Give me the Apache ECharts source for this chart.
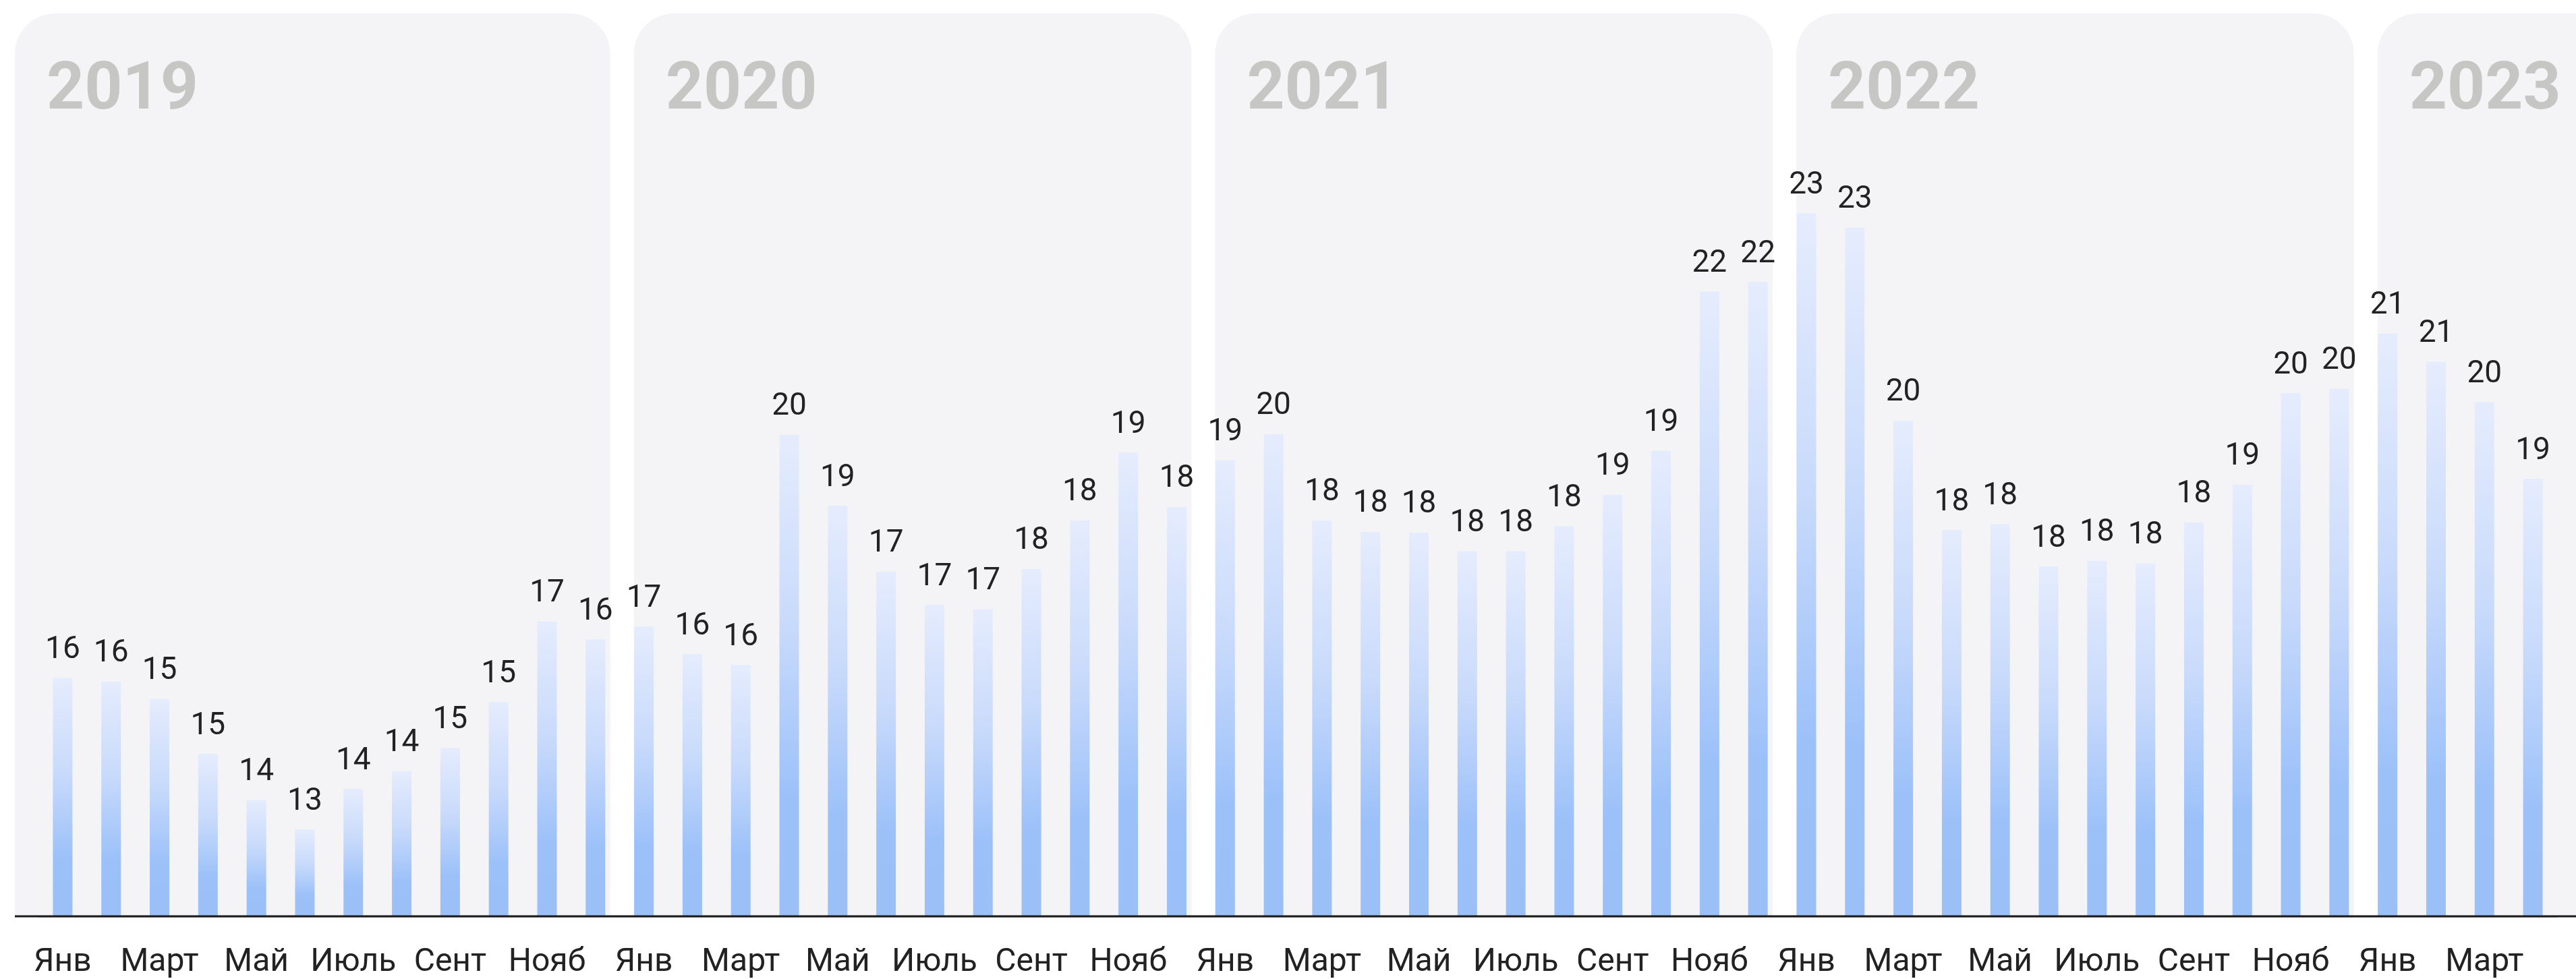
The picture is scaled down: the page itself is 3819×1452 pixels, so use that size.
<!DOCTYPE html>
<html>
<head>
<meta charset="utf-8">
<script src="https://cdn.jsdelivr.net/npm/echarts@6/dist/echarts.min.js"></script>
<style>
  html, body { margin: 0; padding: 0; background: #ffffff; }
  #chart { width: 3819px; height: 1452px; }
</style>
</head>
<body>
<div id="chart"></div>
<script>
// ---------- DATA ----------
var MONTHS = ['Янв', 'Фев', 'Март', 'Апр', 'Май', 'Июнь', 'Июль', 'Авг', 'Сент', 'Окт', 'Нояб', 'Дек'];
var YEARS = ['2019', '2020', '2021', '2022', '2023'];
var MONTHS_PER_YEAR = [12, 12, 12, 12, 4];

var v2019 = [15.82, 15.76, 15.49, 14.63, 13.91, 13.45, 14.08, 14.36, 14.72, 15.44, 16.70, 16.42];
var v2020 = [16.62, 16.19, 16.02, 19.62, 18.51, 17.48, 16.96, 16.89, 17.52, 18.28, 19.34, 18.49];
var v2021 = [19.22, 19.63, 18.28, 18.10, 18.09, 17.80, 17.80, 18.19, 18.68, 19.37, 21.86, 22.01];
var v2022 = [23.08, 22.86, 19.84, 18.13, 18.22, 17.56, 17.65, 17.61, 18.25, 18.84, 20.27, 20.34];
var v2023 = [21.20, 20.76, 20.13, 18.93];

// ---------- BUILD ----------
var VALUES = [].concat(v2019, v2020, v2021, v2022, v2023);
var CATEGORIES = [];
var PANELS = [];
var idx = 0;
YEARS.forEach(function (y, yi) {
  var start = idx;
  for (var m = 0; m < MONTHS_PER_YEAR[yi]; m++) {
    CATEGORIES.push(y + '|' + MONTHS[m]);
    idx++;
  }
  PANELS.push([start, idx - 1, y]);
});

var Y_MIN = 12.08, Y_MAX = 26.206;
var chart = echarts.init(document.getElementById('chart'), null, { renderer: 'canvas' });

var option = {
  animation: false,
  backgroundColor: '#ffffff',
  grid: { left: 57, right: 28, top: 20, bottom: 90, containLabel: false },
  xAxis: {
    type: 'category',
    data: CATEGORIES,
    boundaryGap: true,
    axisLine: { show: true, lineStyle: { color: '#c9c9c9', width: 1 } },
    axisTick: { show: false },
    splitLine: { show: false },
    axisLabel: {
      interval: 1,
      margin: 44,
      color: '#222222',
      fontFamily: 'Roboto',
      fontSize: 48,
      formatter: function (v) { return v.split('|')[1]; }
    }
  },
  yAxis: {
    type: 'value',
    min: Y_MIN,
    max: Y_MAX,
    show: false,
    splitLine: { show: false }
  },
  series: [
    {
      type: 'custom',
      z: 0,
      silent: true,
      clip: false,
      data: PANELS,
      encode: { x: [0, 1] },
      renderItem: function (params, api) {
        var cs = params.coordSys;
        var s = api.value(0), e = api.value(1);
        var band = api.size([1, 0])[0];
        var x0 = api.coord([s, Y_MIN])[0] - band / 2;
        var x1 = api.coord([e, Y_MIN])[0] + band / 2;
        var left = params.dataIndex === 0 ? cs.x - 35 : x0 + 21;
        var right = (params.dataIndex === PANELS.length - 1) ? api.getWidth() + 100 : x1 - 14;
        var top = cs.y;
        var bottom = cs.y + cs.height;
        return {
          type: 'group',
          children: [
            {
              type: 'rect',
              shape: { x: left, y: top, width: right - left, height: bottom - top, r: [60, 60, 0, 0] },
              style: { fill: '#f4f4f6' }
            },
            {
              type: 'text',
              style: {
                x: left + 47,
                y: top + 116,
                text: PANELS[params.dataIndex][2],
                fill: '#c6c6c4',
                font: 'bold 98px Roboto',
                textVerticalAlign: 'middle',
                textAlign: 'left'
              }
            }
          ]
        };
      }
    },
    {
      type: 'bar',
      z: 2,
      data: VALUES,
      barWidth: 29,
      itemStyle: {
        color: new echarts.graphic.LinearGradient(0, 0, 0, 1, [
          { offset: 0, color: '#e5ecfd' },
          { offset: 0.4, color: '#c8dafb' },
          { offset: 0.75, color: '#9cc1f9' },
          { offset: 1, color: '#9bc0f8' }
        ])
      },
      label: {
        show: true,
        position: 'top',
        distance: 18,
        color: '#222222',
        fontFamily: 'Roboto',
        fontSize: 46,
        formatter: function (p) { return String(Math.round(p.value)); }
      }
    }
  ]
};
chart.setOption(option);

// baseline drawn across the full width at the axis position
var yBase = chart.convertToPixel({ yAxisIndex: 0 }, Y_MIN);
chart.setOption({
  graphic: [{
    type: 'line',
    z: 10,
    silent: true,
    shape: { x1: 57 - 35, y1: yBase - 1, x2: chart.getWidth(), y2: yBase - 1 },
    style: { stroke: '#1a1a1a', lineWidth: 3 }
  }]
});
</script>
</body>
</html>
